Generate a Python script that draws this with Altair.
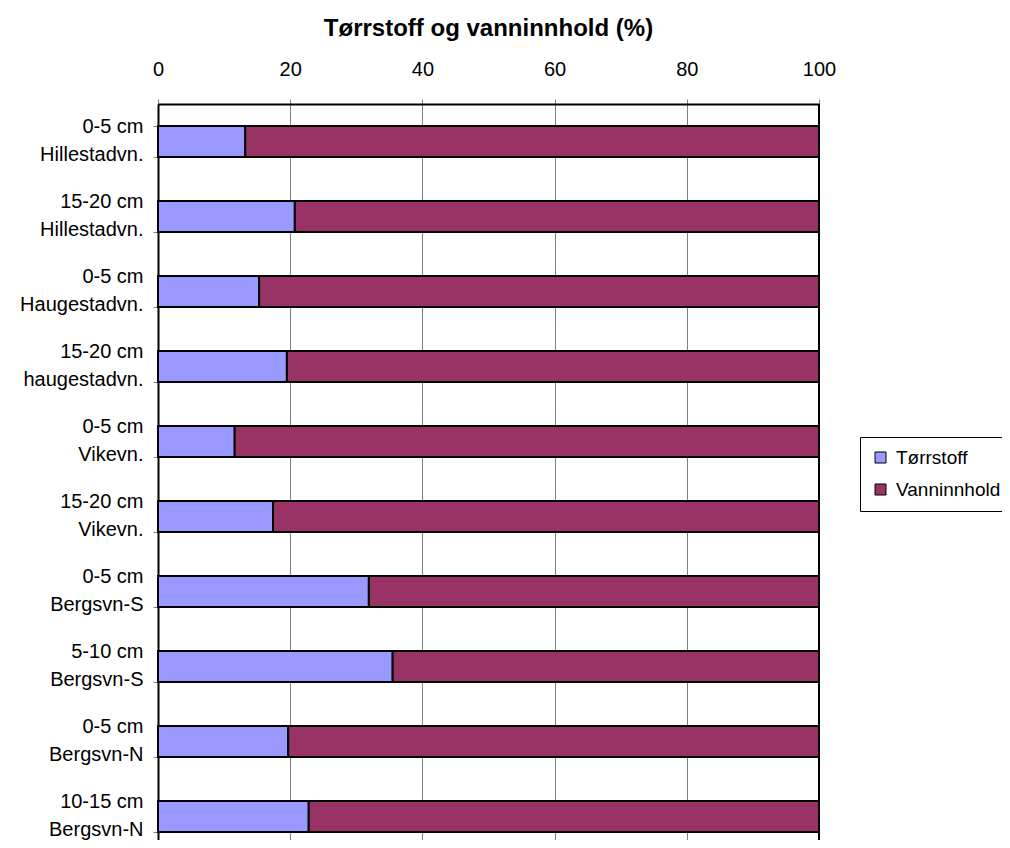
import altair as alt
import pandas as pd

categories = [
    "0-5 cm\nHillestadvn.",
    "15-20 cm\nHillestadvn.",
    "0-5 cm\nHaugestadvn.",
    "15-20 cm\nhaugestadvn.",
    "0-5 cm\nVikevn.",
    "15-20 cm\nVikevn.",
    "0-5 cm\nBergsvn-S",
    "5-10 cm\nBergsvn-S",
    "0-5 cm\nBergsvn-N",
    "10-15 cm\nBergsvn-N",
]
torrstoff = [13.2, 20.7, 15.3, 19.5, 11.6, 17.4, 31.9, 35.5, 19.7, 22.8]
vanninnhold = [86.8, 79.3, 84.7, 80.5, 88.4, 82.6, 68.1, 64.5, 80.3, 77.2]
series = ["Tørrstoff", "Vanninnhold"]
colors = ["#9999FF", "#993366"]
x_ticks = [0, 20, 40, 60, 80, 100]
border_at = [100]

rows = []
for c, t, v in zip(categories, torrstoff, vanninnhold):
    rows.append({"kategori": c, "serie": series[0], "verdi": t, "rekkefolge": 0})
    rows.append({"kategori": c, "serie": series[1], "verdi": v, "rekkefolge": 1})
df = pd.DataFrame(rows)

FONT = "Liberation Sans"
FS = 20

bars = alt.Chart(df).mark_bar(stroke="black", strokeWidth=2).encode(
    y=alt.Y(
        "kategori:N",
        sort=categories,
        scale=alt.Scale(paddingInner=0.587, paddingOuter=0.2935),
        axis=alt.Axis(
            title=None,
            orient="left",
            labelExpr="split(datum.label, '\\n')",
            labelFont=FONT,
            labelFontSize=FS,
            labelColor="black",
            labelAlign="right",
            labelBaseline="middle",
            labelLineHeight=28,
            labelOffset=-15,
            labelPadding=10,
            tickBand="extent",
            tickSize=5,
            tickColor="#808080",
            domainColor="black",
            domainWidth=2,
            grid=False,
        ),
    ),
    x=alt.X(
        "verdi:Q",
        stack="zero",
        scale=alt.Scale(domain=[0, 100], nice=False),
        axis=alt.Axis(
            orient="top",
            values=x_ticks,
            title=None,
            labelFont=FONT,
            labelFontSize=FS,
            labelColor="black",
            labelPadding=20,
            labelFlush=False,
            tickSize=5,
            tickColor="#808080",
            domainColor="black",
            domainWidth=2,
            grid=True,
            gridColor="#808080",
            gridWidth=1,
        ),
    ),
    color=alt.Color(
        "serie:N",
        scale=alt.Scale(domain=series, range=colors),
        legend=alt.Legend(
            title=None,
            orient="none",
            legendX=702,
            legendY=333,
            strokeColor="black",
            fillColor="white",
            padding=11,
            labelFont=FONT,
            labelFontSize=19,
            labelColor="black",
            labelOffset=6,
            symbolType="square",
            symbolSize=121,
            symbolStrokeColor="black",
            symbolStrokeWidth=1,
            rowPadding=12,
        ),
    ),
    order=alt.Order("rekkefolge:Q"),
)

border = alt.Chart(pd.DataFrame({"x": border_at})).mark_rule(
    color="black", strokeWidth=2
).encode(x="x:Q")

chart = alt.layer(bars, border).properties(
    width=661,
    height=750,
    padding={"left": 150, "top": 96, "right": 183, "bottom": -14},
    autosize=alt.AutoSizeParams(type="none"),
    title=alt.TitleParams(
        text="Tørrstoff og vanninnhold (%)",
        font=FONT,
        fontSize=24,
        fontWeight="bold",
        color="black",
        anchor="middle",
        offset=18,
    ),
).configure_view(strokeWidth=0)

chart.save("out.html", embed_options={"renderer": "svg", "actions": False})
